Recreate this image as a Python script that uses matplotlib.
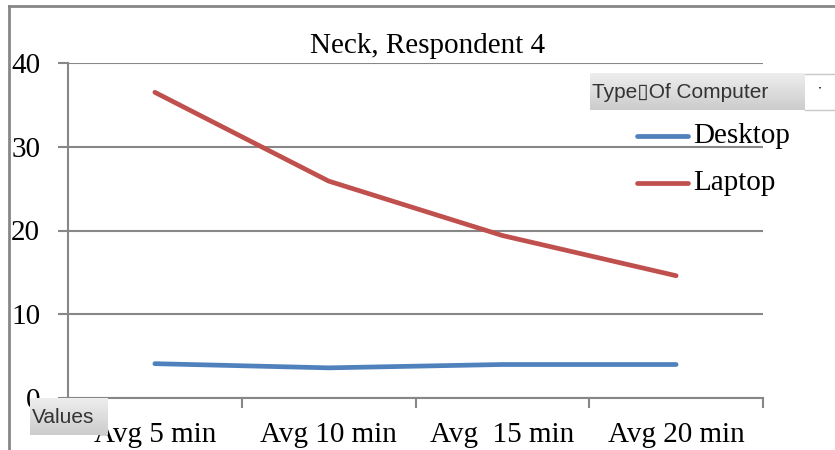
import numpy as np
import matplotlib
matplotlib.use("Agg")
from matplotlib import pyplot as plt

# average neck readings per interval
categories = ["Avg 5 min", "Avg 10 min", "Avg  15 min", "Avg 20 min"]
desktop = [4.1, 3.6, 4.0, 4.0]
laptop = [36.5, 25.9, 19.4, 14.6]
yticks = [0, 10, 20, 30, 40]

W, H = 835, 450
serif = "Liberation Serif"
grey = "#878787"

fig = plt.figure(figsize=(W / 100, H / 100), dpi=100)

def fx(px):
    return px / W

def fy(px):
    return 1 - px / H

# outer frame of the chart object
fig.add_artist(plt.Line2D([fx(9), fx(9)], [fy(6), 0], color=grey, lw=2))
fig.add_artist(plt.Line2D([fx(9), 1], [fy(6), fy(6)], color=grey, lw=2))

ax = fig.add_axes([fx(68), fy(398), fx(763) - fx(68), fy(63) - fy(398)])
x = np.arange(len(categories))
ax.plot(x, desktop, color="#4F81BD", lw=3.4, solid_capstyle="round", label="Desktop")
ax.plot(x, laptop, color="#C0504D", lw=3.4, solid_capstyle="round", label="Laptop")

ax.set_xlim(-0.5, len(categories) - 0.5)
ax.set_ylim(0, 40)
ax.set_yticks(yticks)
ax.set_yticklabels([str(v) for v in yticks], fontfamily=serif, fontsize=21)
ax.set_xticks(x)
ax.set_xticklabels(categories, fontfamily=serif, fontsize=21)
ax.set_xticks(np.arange(len(categories) + 1) - 0.5, minor=True)
ax.tick_params(axis="x", which="major", length=0, pad=17)
ax.tick_params(axis="x", which="minor", length=7, width=1.5, color=grey)
ax.tick_params(axis="y", length=7, width=1.5, color=grey, pad=13)
ax.grid(axis="y", color=grey, lw=1.5)
ax.set_axisbelow(True)
for side in ["top", "right"]:
    ax.spines[side].set_visible(False)
for side in ["left", "bottom"]:
    ax.spines[side].set_color(grey)
    ax.spines[side].set_linewidth(1.5)

fig.text(fx(428), fy(46), "Neck, Respondent 4", fontfamily=serif, fontsize=21,
         ha="center", va="center")

# legend entries
for name, color, ypx in [("Desktop", "#4F81BD", 136), ("Laptop", "#C0504D", 183)]:
    fig.add_artist(plt.Line2D([fx(637), fx(688)], [fy(ypx), fy(ypx)], color=color,
                              lw=3.4, solid_capstyle="round"))
    fig.text(fx(693), fy(ypx), name, fontfamily=serif, fontsize=21, va="center")

grad = np.linspace(0.93, 0.80, 50).reshape(-1, 1)

def button(x0, y0, x1, y1, label):
    b = fig.add_axes([fx(x0), fy(y1), fx(x1) - fx(x0), fy(y0) - fy(y1)], zorder=5)
    b.imshow(grad, cmap="gray", vmin=0, vmax=1, aspect="auto", extent=[0, 1, 0, 1])
    b.set_xlim(0, 1)
    b.set_ylim(0, 1)
    b.axis("off")
    fig.text(fx(x0 + 2), fy((y0 + y1) / 2 + 1), label, fontsize=15, color="#333333",
             family=["Liberation Sans", "DejaVu Sans"], va="center", zorder=6)

# field buttons of the pivot chart
button(590, 73, 805, 110, "Type\u25afOf Computer")
fig.add_artist(plt.Line2D([fx(805), 1], [fy(73.5), fy(73.5)], color="#c8c8c8", lw=1))
fig.add_artist(plt.Line2D([fx(805), 1], [fy(110), fy(110)], color="#c8c8c8", lw=1))
fig.text(fx(820), fy(90), "\u02d1", fontsize=10, color="#333333", ha="center", va="center")
button(30, 398, 108, 435, "Values")

fig.savefig("out.png", dpi=100)
